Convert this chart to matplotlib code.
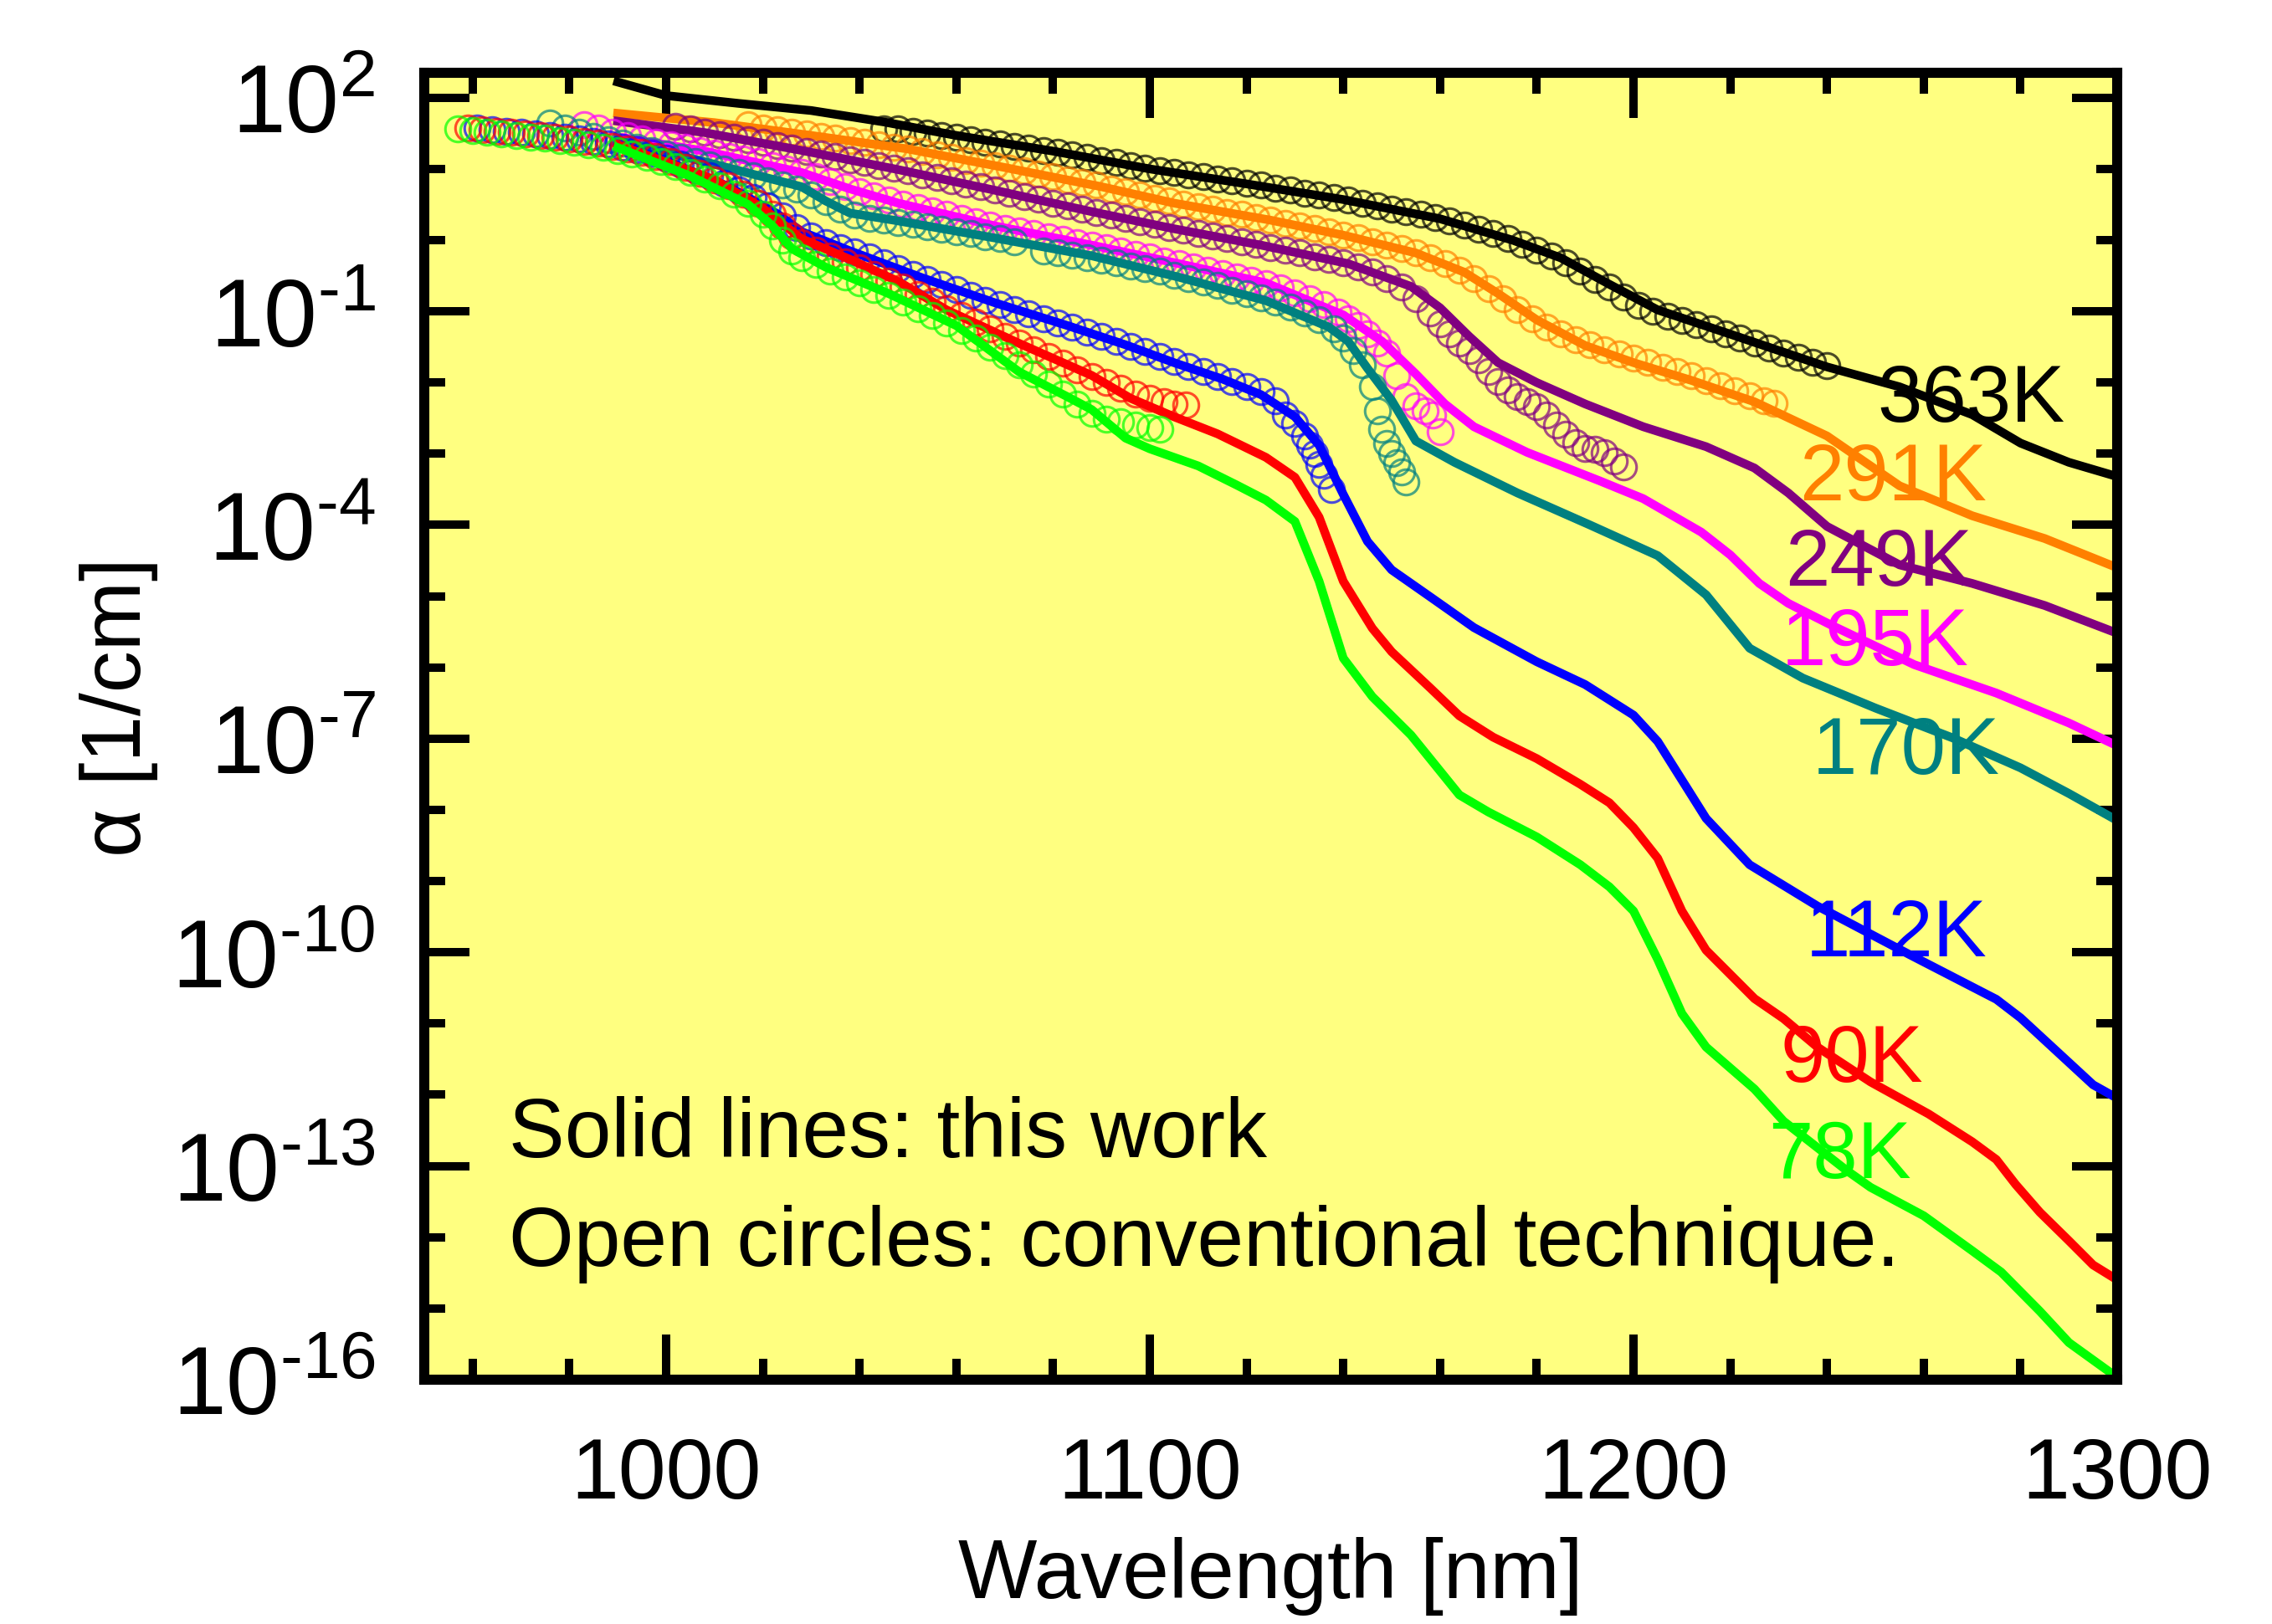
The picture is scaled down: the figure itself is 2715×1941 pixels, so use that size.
import numpy as np
import matplotlib
matplotlib.use('Agg')
import matplotlib.pyplot as plt
from matplotlib.ticker import FixedLocator, MultipleLocator, FuncFormatter, NullFormatter

plt.rcParams['font.family'] = ['Liberation Sans', 'DejaVu Sans']
plt.rcParams['mathtext.fontset'] = 'custom'
plt.rcParams['mathtext.rm'] = 'Liberation Sans'
plt.rcParams['mathtext.it'] = 'Liberation Sans:italic'
plt.rcParams['mathtext.bf'] = 'Liberation Sans:bold'

temps = ['363K', '291K', '249K', '195K', '170K', '112K', '90K', '78K']
colors = ['#000000', '#FF8000', '#800080', '#FF00FF', '#008080', '#0000FF', '#FF0000', '#00FF00']

# solid lines (this work): (wavelength nm, log10 alpha [1/cm])
line_363 = [(990, 2.22), (1000, 2.03), (1015, 1.92), (1030, 1.82), (1045, 1.66), (1060, 1.47),
            (1080, 1.25), (1100, 1.00), (1120, 0.79), (1140, 0.57), (1160, 0.30), (1175, 0.00),
            (1185, -0.25), (1195, -0.62), (1205, -0.98), (1220, -1.32), (1240, -1.78),
            (1255, -2.06), (1270, -2.45), (1280, -2.85), (1290, -3.12), (1300, -3.32)]
line_291 = [(990, 1.78), (1010, 1.65), (1030, 1.47), (1050, 1.28), (1070, 1.02), (1090, 0.75),
            (1105, 0.52), (1125, 0.28), (1140, 0.07), (1155, -0.18), (1165, -0.45), (1172, -0.75),
            (1180, -1.12), (1190, -1.48), (1200, -1.72), (1212, -1.97), (1225, -2.27),
            (1240, -2.75), (1255, -3.45), (1270, -3.87), (1285, -4.19), (1300, -4.60)]
line_249 = [(990, 1.67), (1008, 1.51), (1028, 1.26), (1048, 0.99), (1068, 0.70), (1088, 0.40),
            (1105, 0.16), (1123, -0.07), (1141, -0.33), (1154, -0.65), (1160, -0.95),
            (1166, -1.35), (1172, -1.72), (1180, -2.00), (1190, -2.30), (1202, -2.62),
            (1215, -2.90), (1225, -3.20), (1232, -3.55), (1240, -4.02), (1255, -4.56),
            (1270, -4.82), (1285, -5.13), (1300, -5.52)]
line_195 = [(990, 1.45), (1008, 1.25), (1028, 0.95), (1038, 0.72), (1048, 0.52), (1068, 0.20),
            (1088, -0.07), (1106, -0.33), (1124, -0.60), (1140, -1.05), (1148, -1.42),
            (1155, -1.88), (1161, -2.30), (1167, -2.62), (1178, -2.98), (1193, -3.38),
            (1202, -3.63), (1214, -4.10), (1220, -4.42), (1226, -4.82), (1232, -5.10),
            (1241, -5.41), (1258, -5.96), (1275, -6.36), (1290, -6.78), (1300, -7.10)]
line_170 = [(990, 1.40), (1008, 1.10), (1028, 0.75), (1033, 0.55), (1038, 0.38), (1048, 0.27),
            (1068, 0.03), (1088, -0.22), (1106, -0.52), (1124, -0.85), (1137, -1.22),
            (1141, -1.42), (1145, -1.80), (1150, -2.25), (1155, -2.82), (1163, -3.12),
            (1176, -3.55), (1191, -4.00), (1205, -4.43), (1215, -4.98), (1224, -5.73),
            (1235, -6.15), (1250, -6.57), (1266, -6.99), (1280, -7.41), (1290, -7.77),
            (1300, -8.15)]
line_112 = [(990, 1.36), (1000, 1.12), (1013, 0.75), (1023, 0.37), (1028, 0.12), (1038, -0.15),
            (1053, -0.53), (1068, -0.88), (1083, -1.20), (1095, -1.47), (1105, -1.72),
            (1115, -1.95), (1123, -2.17), (1130, -2.48), (1135, -2.88), (1140, -3.57),
            (1145, -4.23), (1150, -4.63), (1158, -5.01), (1167, -5.44), (1180, -5.92),
            (1190, -6.24), (1200, -6.67), (1205, -7.04), (1215, -8.12), (1224, -8.77),
            (1238, -9.35), (1257, -10.03), (1275, -10.66), (1280, -10.92), (1295, -11.86),
            (1300, -12.05)]
line_90 = [(990, 1.34), (1010, 0.85), (1020, 0.45), (1028, 0.02), (1038, -0.27), (1048, -0.58),
           (1058, -0.98), (1073, -1.45), (1088, -1.90), (1096, -2.22), (1105, -2.48),
           (1114, -2.72), (1124, -3.05), (1130, -3.33), (1135, -3.89), (1140, -4.79),
           (1146, -5.45), (1150, -5.78), (1158, -6.29), (1164, -6.68), (1171, -6.98),
           (1180, -7.28), (1189, -7.64), (1195, -7.90), (1200, -8.25), (1205, -8.68),
           (1210, -9.42), (1215, -9.97), (1225, -10.65), (1231, -10.93), (1238, -11.33),
           (1249, -11.82), (1261, -12.27), (1270, -12.66), (1275, -12.91), (1279, -13.26),
           (1284, -13.65), (1290, -14.05), (1295, -14.39), (1300, -14.60)]
line_78 = [(990, 1.30), (1005, 0.90), (1017, 0.50), (1022, 0.20), (1026, -0.12), (1033, -0.38),
           (1046, -0.75), (1060, -1.20), (1073, -1.85), (1083, -2.20), (1088, -2.38),
           (1095, -2.78), (1100, -2.93), (1110, -3.17), (1118, -3.44), (1124, -3.65),
           (1130, -3.95), (1135, -4.79), (1140, -5.87), (1146, -6.41), (1154, -6.95),
           (1164, -7.79), (1170, -8.03), (1180, -8.38), (1189, -8.77), (1195, -9.08),
           (1200, -9.42), (1205, -10.10), (1210, -10.86), (1215, -11.33), (1225, -11.92),
           (1231, -12.37), (1244, -13.06), (1249, -13.30), (1260, -13.70), (1270, -14.19),
           (1276, -14.49), (1284, -15.04), (1290, -15.48), (1300, -15.97)]

# open circles (conventional technique): (wavelength nm, log10 alpha [1/cm])
circ_363 = [(1045, 1.56), (1048, 1.56), (1051, 1.53), (1054, 1.50), (1057, 1.47), (1060, 1.44),
            (1063, 1.41), (1066, 1.38), (1069, 1.35), (1072, 1.32), (1075, 1.29), (1078, 1.26),
            (1081, 1.23), (1084, 1.20), (1087, 1.16), (1090, 1.12), (1093, 1.09), (1096, 1.05),
            (1099, 1.01), (1102, 0.98), (1105, 0.95), (1108, 0.92), (1111, 0.89), (1114, 0.86),
            (1117, 0.83), (1120, 0.80), (1123, 0.77), (1126, 0.73), (1129, 0.70), (1132, 0.66),
            (1135, 0.63), (1138, 0.60), (1141, 0.56), (1144, 0.52), (1147, 0.48), (1150, 0.44),
            (1153, 0.40), (1156, 0.36), (1159, 0.32), (1162, 0.27), (1165, 0.21), (1168, 0.15),
            (1171, 0.09), (1174, 0.02), (1177, -0.06), (1180, -0.14), (1183, -0.22),
            (1186, -0.32), (1189, -0.44), (1192, -0.55), (1195, -0.66), (1198, -0.80),
            (1201, -0.92), (1204, -1.00), (1207, -1.07), (1210, -1.13), (1213, -1.19),
            (1216, -1.25), (1219, -1.31), (1222, -1.37), (1225, -1.45), (1228, -1.52),
            (1231, -1.59), (1234, -1.65), (1237, -1.71), (1240, -1.76)]
circ_291 = [(1017, 1.62), (1020, 1.58), (1023, 1.55), (1026, 1.52), (1029, 1.49), (1032, 1.46),
            (1035, 1.43), (1038, 1.40), (1041, 1.37), (1044, 1.34), (1047, 1.31), (1050, 1.28),
            (1053, 1.24), (1056, 1.20), (1059, 1.16), (1062, 1.12), (1065, 1.08), (1068, 1.04),
            (1071, 1.01), (1074, 0.97), (1077, 0.93), (1080, 0.89), (1083, 0.85), (1086, 0.81),
            (1089, 0.77), (1092, 0.72), (1095, 0.68), (1098, 0.64), (1101, 0.59), (1104, 0.55),
            (1107, 0.51), (1110, 0.47), (1113, 0.43), (1116, 0.39), (1119, 0.36), (1122, 0.32),
            (1125, 0.28), (1128, 0.24), (1131, 0.20), (1134, 0.16), (1137, 0.12), (1140, 0.07),
            (1143, 0.03), (1146, -0.02), (1149, -0.07), (1152, -0.12), (1155, -0.18),
            (1158, -0.25), (1161, -0.33), (1164, -0.42), (1167, -0.54), (1170, -0.68),
            (1173, -0.82), (1176, -0.97), (1179, -1.10), (1182, -1.22), (1185, -1.32),
            (1188, -1.40), (1191, -1.47), (1194, -1.54), (1197, -1.60), (1200, -1.66),
            (1203, -1.72), (1206, -1.78), (1209, -1.84), (1212, -1.90), (1215, -1.97),
            (1218, -2.04), (1221, -2.11), (1224, -2.18), (1227, -2.25), (1229, -2.29)]
circ_249 = [(1002, 1.60), (1005, 1.56), (1008, 1.52), (1011, 1.48), (1014, 1.45), (1017, 1.41),
            (1020, 1.37), (1023, 1.33), (1026, 1.29), (1029, 1.25), (1032, 1.21), (1035, 1.17),
            (1038, 1.13), (1041, 1.09), (1044, 1.05), (1047, 1.01), (1050, 0.97), (1053, 0.92),
            (1056, 0.88), (1059, 0.84), (1062, 0.79), (1065, 0.75), (1068, 0.70), (1071, 0.66),
            (1074, 0.61), (1077, 0.57), (1080, 0.52), (1083, 0.48), (1086, 0.43), (1089, 0.39),
            (1092, 0.35), (1095, 0.30), (1098, 0.26), (1101, 0.22), (1104, 0.18), (1107, 0.14),
            (1110, 0.10), (1113, 0.06), (1116, 0.02), (1119, -0.02), (1122, -0.06),
            (1125, -0.10), (1128, -0.14), (1131, -0.18), (1134, -0.23), (1137, -0.27),
            (1140, -0.32), (1143, -0.38), (1146, -0.45), (1149, -0.54), (1152, -0.66),
            (1155, -0.82), (1158, -1.02), (1160, -1.18), (1162, -1.32), (1164, -1.44),
            (1166, -1.55), (1168, -1.68), (1170, -1.84), (1172, -1.98), (1174, -2.10),
            (1176, -2.20), (1178, -2.27), (1180, -2.34), (1182, -2.45), (1184, -2.60),
            (1186, -2.72), (1188, -2.84), (1190, -2.92), (1192, -2.94), (1194, -2.98),
            (1196, -3.10), (1198, -3.18)]
circ_195 = [(983, 1.62), (986, 1.57), (989, 1.52), (992, 1.47), (995, 1.42), (998, 1.38),
            (1001, 1.34), (1004, 1.30), (1007, 1.26), (1010, 1.22), (1013, 1.18), (1016, 1.14),
            (1019, 1.10), (1022, 1.05), (1025, 1.00), (1028, 0.95), (1031, 0.89), (1034, 0.82),
            (1037, 0.75), (1040, 0.68), (1043, 0.62), (1046, 0.56), (1049, 0.51), (1052, 0.46),
            (1055, 0.41), (1058, 0.36), (1061, 0.31), (1064, 0.26), (1067, 0.21), (1070, 0.17),
            (1073, 0.13), (1076, 0.09), (1079, 0.05), (1082, 0.01), (1085, -0.03),
            (1088, -0.07), (1091, -0.11), (1094, -0.15), (1097, -0.20), (1100, -0.24),
            (1103, -0.29), (1106, -0.33), (1109, -0.38), (1112, -0.42), (1115, -0.47),
            (1118, -0.52), (1121, -0.56), (1124, -0.61), (1127, -0.67), (1130, -0.74),
            (1133, -0.82), (1136, -0.91), (1139, -1.01), (1141, -1.10), (1143, -1.20),
            (1145, -1.32), (1147, -1.44), (1149, -1.58), (1151, -1.90), (1153, -2.20),
            (1155, -2.33), (1157, -2.40), (1158.5, -2.45), (1160, -2.69)]
circ_170 = [(976, 1.64), (979, 1.58), (982, 1.52), (985, 1.46), (988, 1.41), (991, 1.36),
            (994, 1.31), (997, 1.26), (1000, 1.21), (1003, 1.16), (1006, 1.11), (1009, 1.06),
            (1012, 1.00), (1015, 0.95), (1018, 0.90), (1021, 0.84), (1024, 0.78), (1027, 0.72),
            (1030, 0.64), (1033, 0.54), (1036, 0.43), (1039, 0.35), (1042, 0.31), (1045, 0.28),
            (1048, 0.25), (1051, 0.22), (1054, 0.19), (1057, 0.15), (1060, 0.12), (1063, 0.09),
            (1066, 0.05), (1069, 0.02), (1072, -0.02), (1078, -0.15), (1081, -0.18),
            (1084, -0.21), (1087, -0.25), (1090, -0.28), (1093, -0.32), (1096, -0.36),
            (1099, -0.40), (1102, -0.44), (1105, -0.49), (1108, -0.54), (1111, -0.59),
            (1114, -0.64), (1117, -0.70), (1120, -0.75), (1123, -0.81), (1126, -0.87),
            (1129, -0.94), (1132, -1.02), (1135, -1.12), (1138, -1.25), (1140, -1.38),
            (1142, -1.55), (1144, -1.75), (1146, -2.05), (1147, -2.40), (1148, -2.65),
            (1149, -2.85), (1150, -3.00), (1151, -3.12), (1152, -3.25), (1153, -3.40)]
circ_112 = [(961, 1.57), (964, 1.55), (967, 1.53), (970, 1.51), (973, 1.49), (976, 1.47),
            (979, 1.45), (982, 1.42), (985, 1.39), (988, 1.35), (991, 1.31), (994, 1.27),
            (997, 1.22), (1000, 1.15), (1003, 1.07), (1006, 0.99), (1009, 0.90), (1012, 0.80),
            (1015, 0.70), (1018, 0.60), (1021, 0.48), (1024, 0.34), (1027, 0.18), (1030, 0.06),
            (1033, -0.03), (1036, -0.10), (1039, -0.17), (1042, -0.24), (1045, -0.32),
            (1048, -0.40), (1051, -0.48), (1054, -0.55), (1057, -0.62), (1060, -0.69),
            (1063, -0.77), (1066, -0.84), (1069, -0.90), (1072, -0.97), (1075, -1.03),
            (1078, -1.10), (1081, -1.16), (1084, -1.22), (1087, -1.29), (1090, -1.35),
            (1093, -1.42), (1096, -1.49), (1099, -1.56), (1102, -1.63), (1105, -1.70),
            (1108, -1.77), (1111, -1.84), (1114, -1.91), (1117, -1.98), (1120, -2.05),
            (1123, -2.13), (1126, -2.25), (1128, -2.45), (1130, -2.57), (1132, -2.75),
            (1133, -2.88), (1134, -3.00), (1135, -3.15), (1136, -3.30), (1137.5, -3.50)]
circ_90 = [(959, 1.57), (962, 1.55), (965, 1.53), (968, 1.51), (971, 1.49), (974, 1.47),
           (977, 1.45), (980, 1.42), (983, 1.39), (986, 1.36), (989, 1.32), (992, 1.28),
           (995, 1.23), (998, 1.17), (1001, 1.10), (1004, 1.02), (1007, 0.94), (1010, 0.85),
           (1013, 0.76), (1016, 0.65), (1019, 0.52), (1022, 0.36), (1024, 0.20), (1026, 0.06),
           (1028, -0.04), (1031, -0.14), (1034, -0.22), (1037, -0.30), (1040, -0.39),
           (1043, -0.48), (1046, -0.57), (1049, -0.66), (1052, -0.76), (1055, -0.86),
           (1058, -0.96), (1061, -1.06), (1064, -1.15), (1067, -1.25), (1070, -1.35),
           (1073, -1.44), (1076, -1.54), (1079, -1.63), (1082, -1.73), (1085, -1.82),
           (1088, -1.91), (1091, -2.00), (1094, -2.08), (1097, -2.16), (1100, -2.22),
           (1103, -2.27), (1105, -2.30), (1107.5, -2.32)]
circ_78 = [(957, 1.56), (960, 1.54), (963, 1.51), (966, 1.49), (969, 1.47), (972, 1.45),
           (975, 1.43), (978, 1.40), (981, 1.37), (984, 1.34), (987, 1.30), (990, 1.26),
           (993, 1.21), (996, 1.16), (999, 1.10), (1002, 1.03), (1005, 0.95), (1008, 0.86),
           (1011, 0.76), (1014, 0.65), (1017, 0.52), (1020, 0.36), (1022, 0.20), (1024, 0.00),
           (1026, -0.15), (1028, -0.25), (1031, -0.34), (1034, -0.43), (1037, -0.52),
           (1040, -0.60), (1043, -0.69), (1046, -0.78), (1049, -0.87), (1052, -0.96),
           (1055, -1.06), (1058, -1.16), (1061, -1.27), (1064, -1.38), (1067, -1.50),
           (1070, -1.62), (1073, -1.75), (1076, -1.88), (1079, -2.02), (1082, -2.16),
           (1085, -2.30), (1088, -2.43), (1091, -2.51), (1094, -2.55), (1097, -2.60),
           (1100, -2.63), (1102, -2.66)]

lines = [line_363, line_291, line_249, line_195, line_170, line_112, line_90, line_78]
circles = [circ_363, circ_291, circ_249, circ_195, circ_170, circ_112, circ_90, circ_78]

fig = plt.figure(figsize=(9.05, 6.4733), dpi=300)
ax = fig.add_axes([0.1867, 0.1504, 0.9319 - 0.1867, 0.9547 - 0.1504])
ax.set_facecolor('#FFFF80')

for circ, line, col in zip(circles, lines, colors):
    cx, cy = zip(*circ)
    ax.plot(cx, 10.0 ** np.array(cy), 'o', mfc='none', mec=col, mew=0.75, ms=7.3, alpha=0.7)
    lx, ly = zip(*line)
    ax.plot(lx, 10.0 ** np.array(ly), '-', color=col, lw=2.5)

# temperature labels: left edge, baseline (log10)
label_pos = [(1250.4, -2.54), (1234.3, -3.64), (1231.3, -4.84), (1230.6, -5.96),
             (1236.9, -7.48), (1235.5, -10.05), (1230.3, -11.81), (1227.9, -13.16)]
for t, col, (px, py) in zip(temps, colors, label_pos):
    ax.text(px, 10.0 ** py, t, color=col, fontsize=23, ha='left', va='baseline')

ax.text(967.5, 10.0 ** -12.87, 'Solid lines: this work', fontsize=24, ha='left', va='baseline')
ax.text(967.5, 10.0 ** -14.39, 'Open circles: conventional technique.', fontsize=24,
        ha='left', va='baseline')

ax.set_xlim(950, 1300)
ax.set_yscale('log')
ax.set_ylim(1e-16, 10 ** 2.35)
ax.xaxis.set_major_locator(MultipleLocator(100))
ax.xaxis.set_minor_locator(MultipleLocator(20))
ax.yaxis.set_major_locator(FixedLocator([10.0 ** k for k in range(2, -17, -3)]))
ax.yaxis.set_minor_locator(FixedLocator([10.0 ** k for k in range(2, -17, -1) if (2 - k) % 3]))


def ylab(v, pos):
    e = int(round(np.log10(v)))
    s = ('\u2010%d' % -e) if e < 0 else '%d' % e
    return r'$\mathregular{10^{%s}}$' % s


ax.yaxis.set_major_formatter(FuncFormatter(ylab))
ax.yaxis.set_minor_formatter(NullFormatter())

ax.tick_params(which='both', direction='in', top=True, right=True, width=2.4)
ax.tick_params(which='major', length=13)
ax.tick_params(which='minor', length=6)
ax.tick_params(axis='x', labelsize=24.5, pad=16)
ax.tick_params(axis='y', labelsize=27.5, pad=14)
for s in ax.spines.values():
    s.set_linewidth(2.9)

ax.set_xlabel('Wavelength [nm]', fontsize=24, labelpad=6)
ax.set_ylabel('α [1/cm]', fontsize=24)
ax.yaxis.set_label_coords(-0.157, 0.515)

fig.savefig('out.png', dpi=300)
